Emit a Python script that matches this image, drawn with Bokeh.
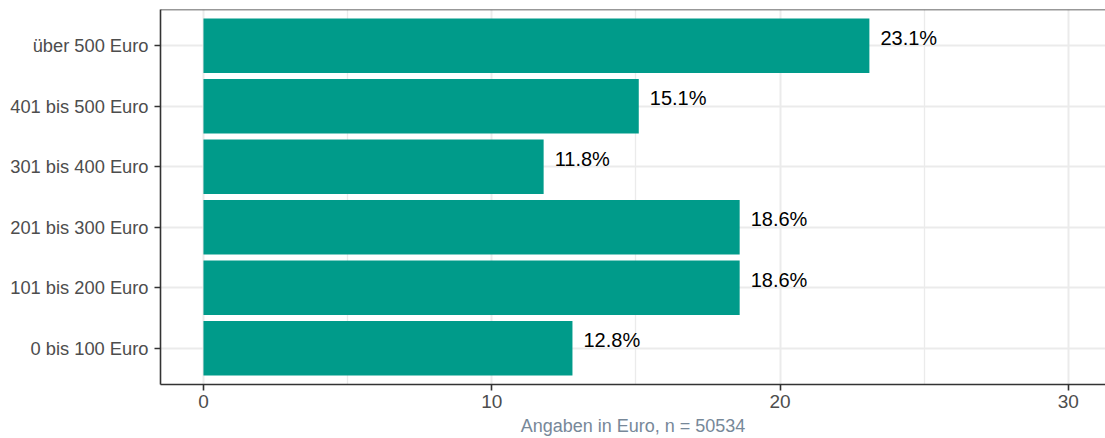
from bokeh.plotting import figure
from bokeh.models import Range1d, FixedTicker, Span, ColumnDataSource, Title
from bokeh.embed import file_html
from bokeh.resources import INLINE
from bokeh.core.properties import value

categories = ["0 bis 100 Euro", "101 bis 200 Euro", "201 bis 300 Euro",
              "301 bis 400 Euro", "401 bis 500 Euro", "über 500 Euro"]
shares = [12.8, 18.6, 18.6, 11.8, 15.1, 23.1]
x_ticks = [0, 10, 20, 30]
x_minor = [5, 15, 25]
x_title = "Angaben in Euro, n = 50534"

pos = list(range(1, len(categories) + 1))
labels = [f"{v:.1f}%" for v in shares]
src = ColumnDataSource(dict(y=pos, v=shares, lab=labels))

FONT = "Liberation Sans"

p = figure(width=1105, height=438, output_backend="svg", toolbar_location=None,
           x_range=Range1d(-1.49, 31.29), y_range=Range1d(0.4, 6.6),
           min_border_left=160, min_border_right=0, min_border_top=9, min_border_bottom=0)
p.outline_line_color = None
p.background_fill_color = "white"
p.border_fill_color = "white"

p.hbar(y="y", left=0, right="v", height=0.9, source=src,
       fill_color="#009B8A", line_color=None)
p.text(x="v", y="y", text="lab", source=src, x_offset=11, y_offset=-8,
       text_baseline="middle", text_align="left",
       text_font=value(FONT), text_font_size="20px", text_color="black")

# axes
p.xaxis.ticker = FixedTicker(ticks=x_ticks, minor_ticks=x_minor)
p.yaxis.ticker = FixedTicker(ticks=pos)
p.yaxis.major_label_overrides = {i: c for i, c in zip(pos, categories)}
for ax in (p.xaxis[0], p.yaxis[0]):
    ax.axis_line_color = "#333333"
    ax.axis_line_width = 1.6
    ax.major_tick_line_color = "#333333"
    ax.major_tick_line_width = 1.6
    ax.major_tick_out = 6
    ax.major_tick_in = 0
    ax.minor_tick_line_color = None
    ax.major_label_text_font = FONT
    ax.major_label_text_color = "#4D4D4D"
p.yaxis.major_label_text_font_size = "18.3px"
p.yaxis.major_label_standoff = 6
p.xaxis.major_label_text_font_size = "19px"
p.xaxis.major_label_standoff = 4

# axis title below the axis
p.add_layout(Title(text=x_title, align="center", standoff=6,
                   text_font=FONT, text_font_size="18px", text_font_style="normal",
                   text_color="#778899"), "below")

# grid
p.xgrid.ticker = FixedTicker(ticks=x_ticks, minor_ticks=x_minor)
p.xgrid.grid_line_color = "#EBEBEB"
p.xgrid.grid_line_width = 2
p.xgrid.minor_grid_line_color = "#EBEBEB"
p.xgrid.minor_grid_line_width = 1.3
p.ygrid.ticker = FixedTicker(ticks=pos)
p.ygrid.grid_line_color = "#EBEBEB"
p.ygrid.grid_line_width = 2
p.xgrid.level = "underlay"
p.ygrid.level = "underlay"

# top border of the panel
p.add_layout(Span(location=6.6, dimension="width", line_color="#333333", line_width=1.6))

open("out.html", "w").write(file_html(p, INLINE))
